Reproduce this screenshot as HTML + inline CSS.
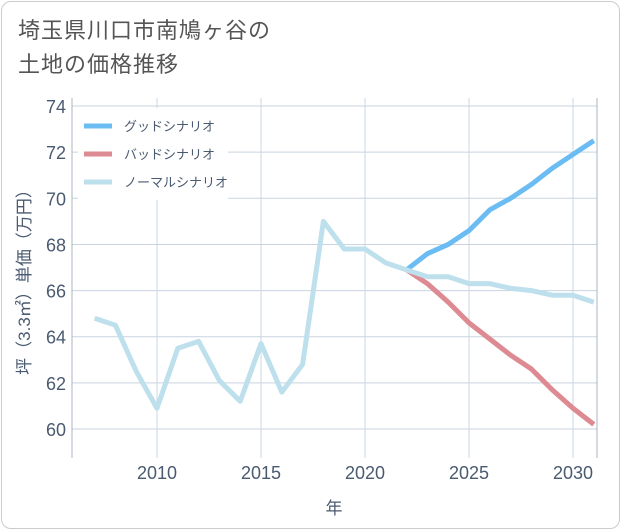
<!DOCTYPE html>
<html><head><meta charset="utf-8"><style>
body{margin:0;background:#fff;font-family:"Liberation Sans","Noto Sans CJK JP",sans-serif}
#card{position:absolute;left:1px;top:1px;width:617px;height:526px;border:1px solid #ccc;border-radius:10px;background:#fff}
#title{position:absolute;left:18px;top:14px;font-size:22px;line-height:34px;color:#555;letter-spacing:1px}
</style></head><body>
<div id="card"></div>
<div id="title">埼玉県川口市南鳩ヶ谷の<br>土地の価格推移</div>
<svg id="chart" width="621" height="530" style="position:absolute;left:0;top:0"></svg>
<script>
const years=[2007,2008,2009,2010,2011,2012,2013,2014,2015,2016,2017,2018,2019,2020,2021,2022,2023,2024,2025,2026,2027,2028,2029,2030,2031];
const normal=[64.8,64.5,62.5,60.9,63.5,63.8,62.1,61.2,63.7,61.6,62.8,69.0,67.8,67.8,67.2,66.9,66.6,66.6,66.3,66.3,66.1,66.0,65.8,65.8,65.5];
const fYears=[2022,2023,2024,2025,2026,2027,2028,2029,2030,2031];
const good=[66.9,67.6,68.0,68.6,69.5,70.0,70.6,71.3,71.9,72.5];
const bad=[66.9,66.3,65.5,64.6,63.9,63.2,62.6,61.7,60.9,60.2];
const xTicks=[2010,2015,2020,2025,2030];
const yTicks=[60,62,64,66,68,70,72,74];
const NS="http://www.w3.org/2000/svg",svg=document.getElementById('chart');
const L=72,R=597,T=98,B=458;
const x=v=>157+(v-2010)*20.8;
const y=v=>429-(v-60)*23.07;
function el(t,a,p){const e=document.createElementNS(NS,t);for(const k in a)e.setAttribute(k,a[k]);(p||svg).appendChild(e);return e;}
el('rect',{x:L,y:T,width:R-L,height:B-T,fill:'#fff'});
for(const t of yTicks){
const g=el('line',{x1:L,x2:R,y1:y(t),y2:y(t),stroke:'#c9d3df','stroke-width':1});


const tx=el('text',{x:L-6,y:y(t)+7,'text-anchor':'end','font-size':18,fill:'#4a5a70'});tx.textContent=t;


}
for(const t of xTicks){
const g=el('line',{x1:x(t),x2:x(t),y1:T,y2:B,stroke:'#c9d8e6','stroke-width':1});


const tx=el('text',{x:x(t),y:B+21,'text-anchor':'middle','font-size':18,fill:'#4a5a70'});tx.textContent=t;


}
el('line',{x1:L,x2:L,y1:T,y2:B,stroke:'#aab4c0'});
el('line',{x1:R,x2:R,y1:T,y2:B,stroke:'#aab4c0'});
function line(xs,ys,c,name){const p=el('polyline',{points:xs.map((v,i)=>x(v)+','+y(ys[i])).join(' '),fill:'none',stroke:c,'stroke-width':5,'stroke-linejoin':'round'});

}
line(fYears,bad,'#dd8a92','bad-scenario-line');
line(fYears,good,'#6bbcf2','good-scenario-line');
line(years,normal,'#bde0ec','normal-scenario-line');
const lg=el('rect',{x:78,y:108,width:150,height:92,fill:'#fff'});


const items=[['グッドシナリオ','#6bbcf2'],['バッドシナリオ','#dd8a92'],['ノーマルシナリオ','#bde0ec']];
items.forEach((it,i)=>{const yy=126+i*28;
el('line',{x1:84,x2:112,y1:yy,y2:yy,stroke:it[1],'stroke-width':5});
const t=el('text',{x:124,y:yy+5,'font-size':13,fill:'#4a5a70'});t.textContent=it[0];

});
const xt=el('text',{x:334,y:514,'text-anchor':'middle','font-size':17,fill:'#4a5a70'});xt.textContent='年';


const yt=el('text',{x:0,y:0,'text-anchor':'middle','font-size':17,fill:'#4a5a70',transform:'translate(30,278) rotate(-90)'});yt.textContent='坪（3.3㎡）単価（万円）';


</script>
</body></html>
